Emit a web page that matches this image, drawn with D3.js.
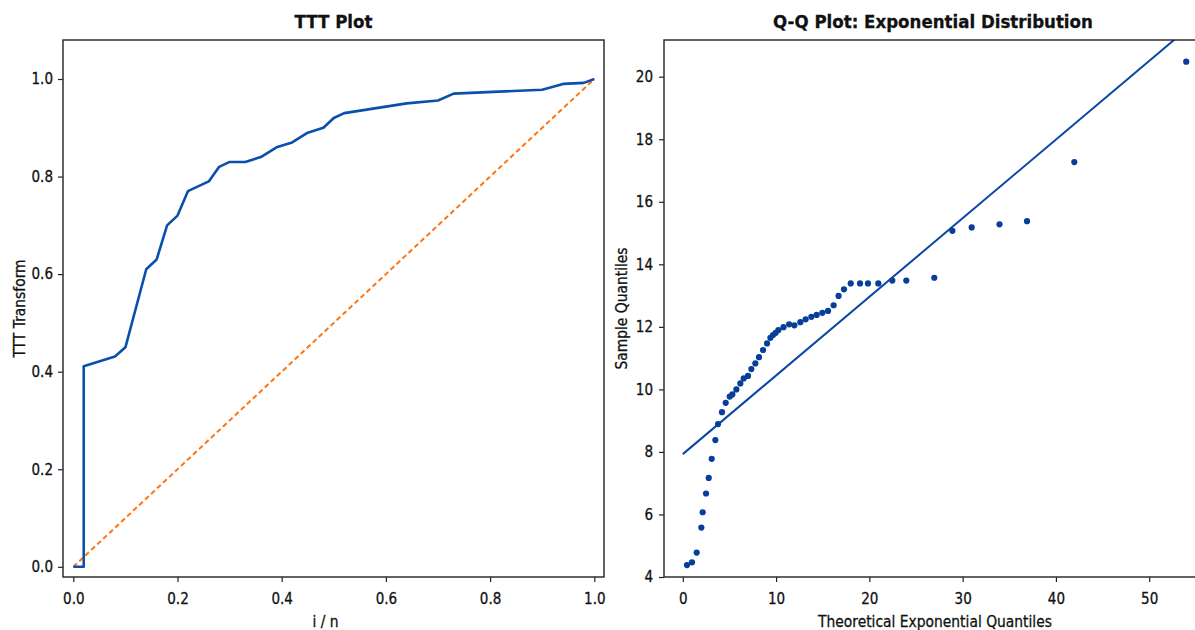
<!DOCTYPE html>
<html>
<head>
<meta charset="utf-8">
<script src="https://cdn.jsdelivr.net/npm/d3@7"></script>
<style>
  html, body { margin: 0; padding: 0; background: #fff; }
  svg { display: block; }
  text { font-family: "DejaVu Sans", sans-serif; fill: #111; stroke: #111; stroke-width: 0.3px; }
</style>
</head>
<body>
<svg id="chart" width="1195" height="630"></svg>
<script>
// ---- TTT transform (scaled total time on test) ----
const tttX = [0, 0.02, 0.02, 0.08, 0.10, 0.14, 0.16, 0.18, 0.20, 0.22, 0.26, 0.28, 0.30, 0.33,
              0.36, 0.39, 0.42, 0.45, 0.48, 0.50, 0.52, 0.64, 0.70, 0.73, 0.90, 0.94, 0.98, 1.00];
const tttY = [0, 0, 0.411, 0.431, 0.45, 0.61, 0.63, 0.70, 0.72, 0.77, 0.79, 0.82, 0.83, 0.83,
              0.84, 0.86, 0.87, 0.89, 0.90, 0.92, 0.93, 0.95, 0.956, 0.97, 0.978, 0.99, 0.992, 1.00];
const diagX = [0, 1];
const tttTicksX = [0, 0.2, 0.4, 0.6, 0.8, 1.0];
const tttTicksY = [0, 0.2, 0.4, 0.6, 0.8, 1.0];

// ---- Q-Q plot against exponential quantiles ----
const qqTheoretical = [0.45, 0.99, 1.49, 1.99, 2.13, 2.49, 2.78, 3.1, 3.49, 3.78, 4.2, 4.6, 5.03, 5.31,
  5.74, 6.17, 6.53, 6.99, 7.35, 7.78, 8.17, 8.6, 9.03, 9.39, 9.67, 9.96, 10.25, 10.8, 11.4, 11.96,
  12.6, 13.17, 13.78, 14.35, 14.96, 15.57, 16.17, 16.7, 17.28, 18.0, 19.0, 19.85, 20.96, 22.46,
  23.96, 26.96, 28.9, 30.97, 33.95, 36.9, 41.97, 53.97];
const qqSample = [4.38, 4.47, 4.78, 5.58, 6.07, 6.67, 7.17, 7.78, 8.38, 8.89, 9.27, 9.57, 9.77, 9.84,
  10.0, 10.19, 10.35, 10.43, 10.65, 10.83, 11.03, 11.26, 11.47, 11.65, 11.74, 11.81, 11.9, 11.99,
  12.08, 12.05, 12.15, 12.24, 12.32, 12.38, 12.45, 12.51, 12.69, 12.99, 13.2, 13.39, 13.39, 13.39,
  13.39, 13.48, 13.48, 13.57, 15.07, 15.18, 15.28, 15.38, 17.27, 20.48];
// reference line: intercept + slope * x
const fitIntercept = 7.93;
const fitSlope = 0.2515;
const fitX = [0, 60];
const qqTicksX = [0, 10, 20, 30, 40, 50];
const qqTicksY = [4, 6, 8, 10, 12, 14, 16, 18, 20];

const svg = d3.select("#chart");

// squeeze glyphs horizontally a little
function squeeze(sel, f) {
  sel.each(function () {
    const len = this.getComputedTextLength();
    d3.select(this).attr("textLength", len * f).attr("lengthAdjust", "spacingAndGlyphs");
  });
}

function styleAxis(g) {
  g.select(".domain").remove();
  g.selectAll(".tick line").attr("stroke", "#222").attr("stroke-width", 1.2);
  g.selectAll(".tick text").style("font-size", "15px").attr("fill", "#111");
  squeeze(g.selectAll(".tick text"), 0.9);
}

function frame(box) {
  svg.append("rect")
    .attr("x", box.left).attr("y", box.top)
    .attr("width", box.right - box.left).attr("height", box.bottom - box.top)
    .attr("fill", "none").attr("stroke", "#222").attr("stroke-width", 1.4);
}

function title(text, cx) {
  const t = svg.append("text").attr("x", cx).attr("y", 28)
    .attr("text-anchor", "middle").style("font-size", "18.3px").style("font-weight", "bold")
    .text(text);
  squeeze(t, 0.91);
}

function xLabel(text, cx) {
  const t = svg.append("text").attr("x", cx).attr("y", 627)
    .attr("text-anchor", "middle").style("font-size", "15.4px").text(text);
  squeeze(t, 0.9);
}

function yLabel(text, x, cy) {
  const t = svg.append("text")
    .attr("transform", `translate(${x},${cy}) rotate(-90)`)
    .attr("text-anchor", "middle").style("font-size", "15.4px").text(text);
  squeeze(t, 0.9);
}

// ================= TTT Plot =================
const boxL = { left: 63, right: 604, top: 40, bottom: 577 };
const xL = d3.scaleLinear().domain([0, 1]).range([73.3, 594.3]);
const yL = d3.scaleLinear().domain([0, 1]).range([566.8, 79]);

svg.append("path")
  .datum(diagX)
  .attr("d", d3.line().x(d => xL(d)).y(d => yL(d)))
  .attr("fill", "none").attr("stroke", "#ff7410").attr("stroke-width", 2)
  .attr("stroke-dasharray", "5,3.2");

svg.append("path")
  .datum(d3.range(tttX.length))
  .attr("d", d3.line().x(i => xL(tttX[i])).y(i => yL(tttY[i])))
  .attr("fill", "none").attr("stroke", "#0b4fad").attr("stroke-width", 2.6)
  .attr("stroke-linejoin", "round");

svg.append("g").attr("transform", `translate(0,${boxL.bottom})`)
  .call(d3.axisBottom(xL).tickValues(tttTicksX).tickFormat(d3.format(".1f"))
    .tickSize(5).tickPadding(11.5))
  .call(styleAxis);
svg.append("g").attr("transform", `translate(${boxL.left},0)`)
  .call(d3.axisLeft(yL).tickValues(tttTicksY).tickFormat(d3.format(".1f"))
    .tickSize(5).tickPadding(5))
  .call(styleAxis);

frame(boxL);
title("TTT Plot", (boxL.left + boxL.right) / 2);
xLabel("i / n", (boxL.left + boxL.right) / 2 - 8);
yLabel("TTT Transform", 25, (boxL.top + boxL.bottom) / 2);

// ================= Q-Q Plot =================
const boxR = { left: 664, right: 1202, top: 40, bottom: 577 };
const xR = d3.scaleLinear().domain([0, 50]).range([682.8, 1149.2]);
const yR = d3.scaleLinear().domain([4, 20]).range([577, 76.7]);

svg.append("clipPath").attr("id", "clipR")
  .append("rect").attr("x", boxR.left).attr("y", boxR.top)
  .attr("width", boxR.right - boxR.left).attr("height", boxR.bottom - boxR.top);

svg.append("path")
  .datum(fitX)
  .attr("clip-path", "url(#clipR)")
  .attr("d", d3.line().x(d => xR(d)).y(d => yR(fitIntercept + fitSlope * d)))
  .attr("fill", "none").attr("stroke", "#0a46a6").attr("stroke-width", 2);

svg.append("g").selectAll("circle")
  .data(d3.range(qqTheoretical.length))
  .join("circle")
  .attr("cx", i => xR(qqTheoretical[i]))
  .attr("cy", i => yR(qqSample[i]))
  .attr("r", 3.1)
  .attr("fill", "#073e9a");

svg.append("g").attr("transform", `translate(0,${boxR.bottom})`)
  .call(d3.axisBottom(xR).tickValues(qqTicksX).tickFormat(d3.format("d"))
    .tickSize(5).tickPadding(11.5))
  .call(styleAxis);
svg.append("g").attr("transform", `translate(${boxR.left},0)`)
  .call(d3.axisLeft(yR).tickValues(qqTicksY).tickFormat(d3.format("d"))
    .tickSize(5).tickPadding(6))
  .call(styleAxis);

frame(boxR);
title("Q-Q Plot: Exponential Distribution", (boxR.left + boxR.right) / 2);
xLabel("Theoretical Exponential Quantiles", 935);
yLabel("Sample Quantiles", 627, (boxR.top + boxR.bottom) / 2);
</script>
</body>
</html>
